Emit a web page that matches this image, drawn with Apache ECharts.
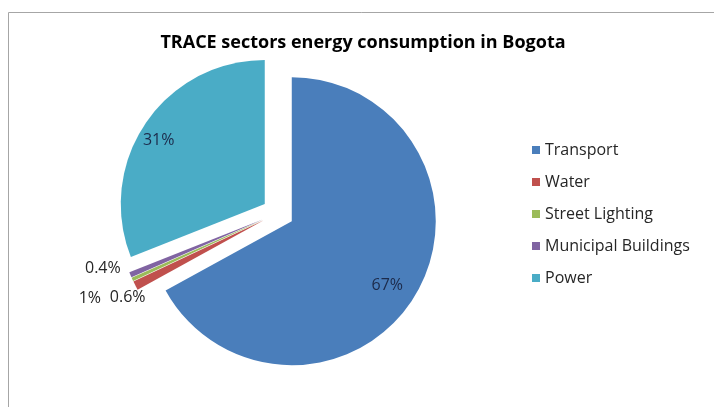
<!DOCTYPE html>
<html>
<head>
<meta charset="utf-8">
<script src="https://cdn.jsdelivr.net/npm/echarts@6/dist/echarts.min.js"></script>
<style>
  html, body { margin: 0; padding: 0; background: #fff; }
  #chart { width: 714px; height: 407px; }
</style>
</head>
<body>
<div id="chart"></div>
<script>
var sectors = ["Transport", "Water", "Street Lighting", "Municipal Buildings", "Power"];
var shares = [67, 1, 0.4, 0.6, 31];
var colors = ["#4a7ebb", "#c0504d", "#9bbb59", "#8064a2", "#4aacc6"];

// label nudges (dx, dy) so labels sit where Excel put them
var labelShift = [[31, 26], [14, 6], [37, -17], [64, 17], [-44, -21]];

var chartDom = document.getElementById("chart");
var myChart = echarts.init(chartDom);
var option;

var pieData = sectors.map(function (name, i) {
  var small = shares[i] < 5;
  return {
    name: name,
    value: shares[i],
    selected: true,
    itemStyle: { color: colors[i] },
    label: small
      ? { position: "outside", color: "#262626" }
      : { position: "inside", color: "#1c2a4a" },
    labelLine: { show: false }
  };
});

option = {
  backgroundColor: "#fff",
  animation: false,
  title: {
    text: "TRACE sectors energy consumption in Bogota",
    left: 358,
    textAlign: "center",
    top: 29,
    textStyle: {
      fontFamily: "Open Sans",
      fontSize: 18,
      fontWeight: "bold",
      color: "#000"
    }
  },
  legend: {
    orient: "vertical",
    left: 527,
    top: 137,
    icon: "rect",
    itemWidth: 8,
    itemHeight: 8,
    itemGap: 16,
    selectedMode: false,
    textStyle: { fontFamily: "Open Sans", fontSize: 16, color: "#262626" },
    data: sectors
  },
  graphic: [
    {
      type: "rect",
      shape: { x: 8.5, y: 12.5, width: 760, height: 420 },
      style: { fill: null, stroke: "#a6a6a6", lineWidth: 1 },
      silent: true
    }
  ],
  series: [
    {
      type: "pie",
      center: [278, 213],
      radius: ["0%", 144],
      startAngle: 90,
      clockwise: true,
      selectedMode: "multiple",
      selectedOffset: 16,
      avoidLabelOverlap: false,
      emphasis: { disabled: true },
      label: {
        fontFamily: "Open Sans",
        fontSize: 16,
        formatter: function (p) { return p.value + "%"; }
      },
      labelLayout: function (params) {
        var s = labelShift[params.dataIndex];
        return { dx: s[0], dy: s[1] };
      },
      data: pieData
    }
  ]
};

option && myChart.setOption(option);
</script>
</body>
</html>
